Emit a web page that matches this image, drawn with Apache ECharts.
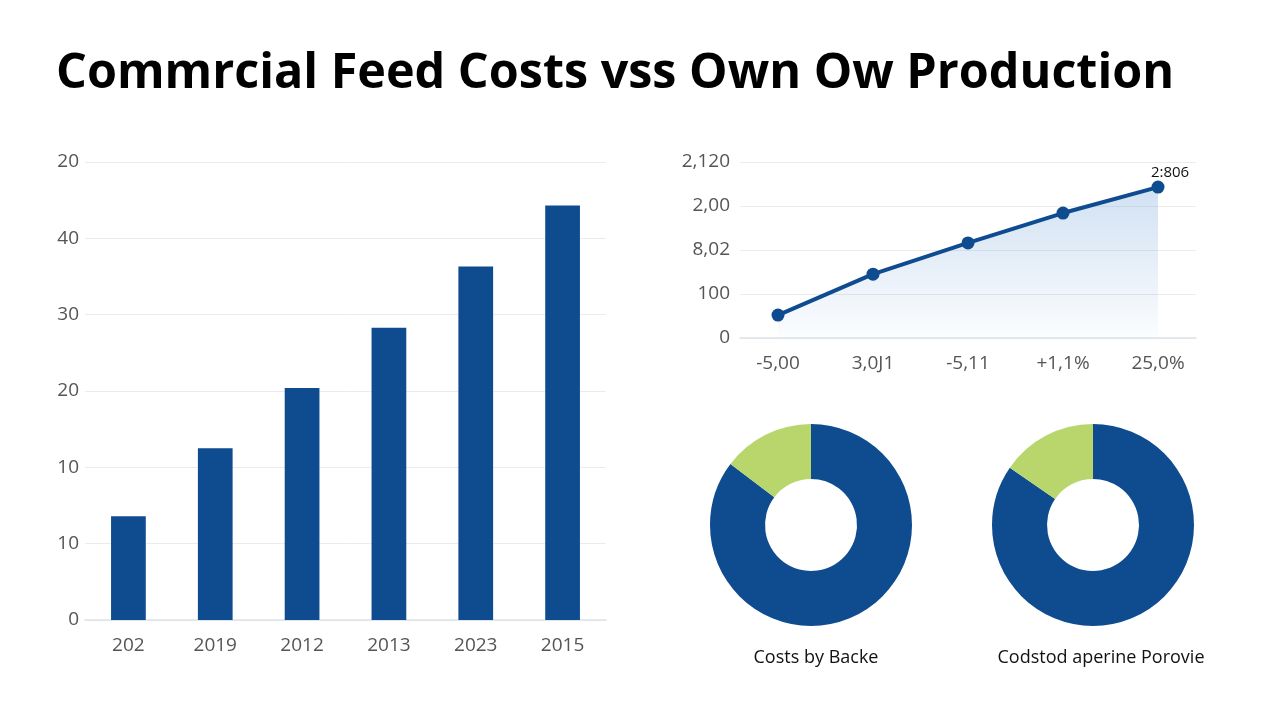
<!DOCTYPE html>
<html>
<head>
<meta charset="utf-8">
<script src="https://cdn.jsdelivr.net/npm/echarts@6/dist/echarts.min.js"></script>
<style>
  html, body { margin: 0; padding: 0; background: #fff; }
  #chart { width: 1280px; height: 704px; }
</style>
</head>
<body>
<div id="chart"></div>
<script>
// Bar chart data
const barCategories = ['202', '2019', '2012', '2013', '2023', '2015'];
const barValues = [13.6, 22.5, 30.4, 38.3, 46.3, 54.3];
const barTickLabels = ['0', '10', '10', '20', '30', '40', '20'];

// Line chart data
const lineCategories = ['-5,00', '3,0J1', '-5,11', '+1,1%', '25,0%'];
const lineValues = [0.52, 1.45, 2.16, 2.84, 3.43];
const lineTickLabels = ['0', '100', '8,02', '2,00', '2,120'];
const lastPointLabel = '2:806';

// Donut data
const donutLeftName = 'Costs by Backe';
const donutLeft = [85.3, 14.7];
const donutRightName = 'Codstod aperine Porovie';
const donutRight = [84.6, 15.4];

const blue = '#0f4c8f';
const green = '#b8d66b';
const axisGray = '#555';
const gridGray = '#ebebeb';

const chart = echarts.init(document.getElementById('chart'));

const option = {
  backgroundColor: '#fff',
  animation: false,
  title: [
    {
      text: 'Commrcial Feed Costs vss Own Ow Production',
      left: 51,
      top: 45,
      textStyle: {
        fontFamily: 'Open Sans',
        fontWeight: 'bold',
        fontSize: 48.5,
        color: '#000'
      }
    },
    {
      text: donutLeftName,
      left: 811,
      top: 644,
      textAlign: 'center',
      textStyle: { fontFamily: 'Open Sans', fontWeight: 'normal', fontSize: 18, color: '#111' }
    },
    {
      text: donutRightName,
      left: 1096,
      top: 644,
      textAlign: 'center',
      textStyle: { fontFamily: 'Open Sans', fontWeight: 'normal', fontSize: 18, color: '#111' }
    }
  ],
  grid: [
    { left: 85, top: 162, width: 521, height: 458 },
    { left: 740, top: 162, width: 456, height: 176 }
  ],
  xAxis: [
    {
      gridIndex: 0,
      type: 'category',
      data: barCategories,
      axisLine: { lineStyle: { color: '#dde3ea', width: 1.5 } },
      axisTick: { show: false },
      axisLabel: { color: axisGray, fontSize: 19, margin: 16, fontFamily: 'Open Sans' }
    },
    {
      gridIndex: 1,
      type: 'value',
      min: -0.4,
      max: 4.4,
      axisLine: { lineStyle: { color: '#dde3ea', width: 1.5 } },
      axisTick: { show: false },
      splitLine: { show: false },
      axisLabel: {
        customValues: [0, 1, 2, 3, 4],
        color: axisGray,
        fontSize: 19,
        margin: 16,
        fontFamily: 'Open Sans',
        formatter: (v) => lineCategories[Math.round(v)] || ''
      }
    }
  ],
  yAxis: [
    {
      gridIndex: 0,
      type: 'value',
      min: 0,
      max: 60,
      interval: 10,
      axisLine: { show: false },
      axisTick: { show: false },
      splitLine: { lineStyle: { color: gridGray } },
      axisLabel: {
        color: axisGray,
        fontSize: 19,
        margin: 6,
        fontFamily: 'Open Sans',
        formatter: (v) => barTickLabels[Math.round(v / 10)]
      }
    },
    {
      gridIndex: 1,
      type: 'value',
      min: 0,
      max: 4,
      interval: 1,
      axisLine: { show: false },
      axisTick: { show: false },
      splitLine: { lineStyle: { color: gridGray } },
      axisLabel: {
        color: axisGray,
        fontSize: 19,
        margin: 10,
        fontFamily: 'Open Sans',
        formatter: (v) => lineTickLabels[Math.round(v)]
      }
    }
  ],
  series: [
    {
      type: 'bar',
      xAxisIndex: 0,
      yAxisIndex: 0,
      data: barValues,
      barWidth: '40%',
      itemStyle: { color: blue }
    },
    {
      type: 'line',
      xAxisIndex: 1,
      yAxisIndex: 1,
      data: lineValues.map((v, i) => [i, v]),
      symbol: 'circle',
      symbolSize: 13,
      lineStyle: { color: blue, width: 4 },
      itemStyle: { color: blue },
      areaStyle: {
        color: new echarts.graphic.LinearGradient(0, 0, 0, 1, [
          { offset: 0, color: 'rgba(110,160,215,0.45)' },
          { offset: 1, color: 'rgba(110,160,215,0.04)' }
        ])
      },
      label: {
        show: true,
        position: 'top',
        offset: [12, 5],
        color: '#111',
        fontSize: 15,
        fontFamily: 'Open Sans',
        formatter: (p) => (p.dataIndex === lineValues.length - 1 ? lastPointLabel : '')
      }
    },
    {
      type: 'pie',
      center: [811, 525],
      radius: [46, 101],
      startAngle: 90,
      clockwise: true,
      label: { show: false },
      labelLine: { show: false },
      silent: true,
      data: [
        { value: donutLeft[0], itemStyle: { color: blue } },
        { value: donutLeft[1], itemStyle: { color: green } }
      ]
    },
    {
      type: 'pie',
      center: [1093, 525],
      radius: [46, 101],
      startAngle: 90,
      clockwise: true,
      label: { show: false },
      labelLine: { show: false },
      silent: true,
      data: [
        { value: donutRight[0], itemStyle: { color: blue } },
        { value: donutRight[1], itemStyle: { color: green } }
      ]
    }
  ]
};

chart.setOption(option);
</script>
</body>
</html>
